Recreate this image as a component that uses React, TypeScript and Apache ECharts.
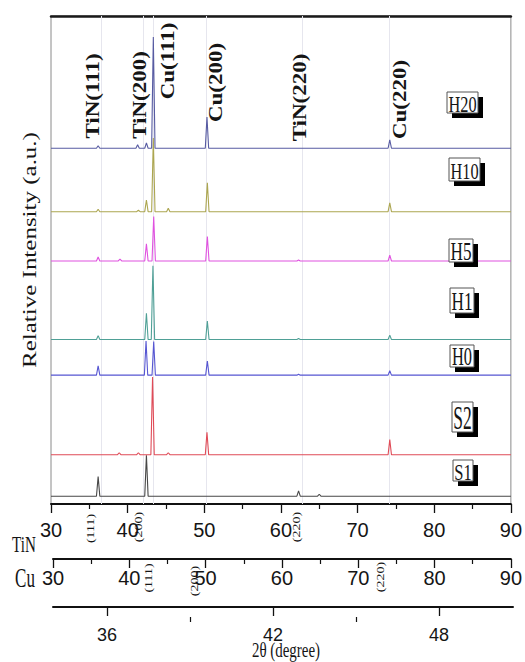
import React, { useEffect, useRef } from "react";
import * as echarts from "echarts";

// ---------- data ----------
const X_MIN = 30;
const X_MAX = 90;
const X_STEP = 10;
const THIRD_MIN = 34.05;
const THIRD_MAX = 50.67;
const thirdMajorTicks = [36, 42, 48];
const thirdMinorTicks = [39, 45];

const sampleNames = ["S1", "S2", "H0", "H1", "H5", "H10", "H20"];
const sampleColors = ["#474747", "#e04b57", "#5656d2", "#4fa096", "#e052e0", "#aca650", "#575ba2"];
const baselines = [1.6, 10.1, 26.4, 33.7, 49.8, 59.9, 72.9];

// [2θ, apex intensity]
const peaksS1 = [[36.15, 5.6], [42.45, 10.0], [62.3, 2.7], [65.0, 2.0]];
const peaksS2 = [[38.9, 10.5], [41.4, 10.5], [43.25, 26.0], [45.3, 10.5], [50.35, 14.7], [74.2, 13.2]];
const peaksH0 = [[36.15, 28.3], [42.4, 33.4], [43.4, 33.3], [50.4, 29.3], [62.3, 26.6], [74.2, 27.3]];
const peaksH1 = [[36.15, 34.5], [42.45, 39.1], [43.3, 48.8], [50.4, 37.5], [62.3, 33.9], [74.2, 34.6]];
const peaksH5 = [[36.15, 50.6], [39.0, 50.2], [42.45, 53.3], [43.4, 58.9], [50.4, 54.8], [62.3, 50.0], [74.2, 51.0]];
const peaksH10 = [[36.15, 60.4], [41.4, 60.2], [42.45, 62.3], [43.35, 75.0], [45.3, 60.6], [50.4, 65.8], [74.2, 61.7]];
const peaksH20 = [[36.15, 73.4], [41.3, 73.6], [42.45, 74.0], [43.35, 95.7], [50.35, 79.3], [74.2, 74.6]];
const allPeaks = [peaksS1, peaksS2, peaksH0, peaksH1, peaksH5, peaksH10, peaksH20];
const PEAK_HALF_WIDTH = 0.22;

const guideLines = [36.6, 42.0, 43.4, 50.2, 62.8, 74.1];

const peakLabelTexts = ["TiN(111)", "TiN(200)", "Cu(111)", "Cu(200)", "TiN(220)", "Cu(220)"];
const tinAxisHkl = ["(111)", "(200)", "(220)"];
const cuAxisHkl = ["(111)", "(200)", "(220)"];

// ---------- helpers ----------
const SERIF = "'Liberation Serif', 'Times New Roman', serif";
const NARROW = "'Liberation Sans Narrow', 'Liberation Sans', Arial, sans-serif";

function buildLine(base: number, peaks: number[][]) {
  const pts: number[][] = [[X_MIN, base]];
  for (const [p, top] of peaks) {
    pts.push([p - PEAK_HALF_WIDTH, base]);
    pts.push([p, top]);
    pts.push([p + PEAK_HALF_WIDTH, base]);
  }
  pts.push([X_MAX, base]);
  return pts;
}

function rotText(text: string, x: number, y: number, fs: number, bold: boolean, sy: number) {
  return {
    type: "text",
    x,
    y,
    rotation: Math.PI / 2,
    scaleY: sy,
    z: 20,
    style: {
      text,
      fontSize: fs,
      fontWeight: bold ? "bold" : "normal",
      fontFamily: SERIF,
      fill: "#151515",
      align: "center",
      verticalAlign: "middle",
      textAlign: "center",
      textVerticalAlign: "middle",
    },
  };
}

function hText(text: string, x: number, y: number, fs: number, sx: number) {
  return {
    type: "text",
    x,
    y,
    scaleX: sx,
    z: 20,
    style: {
      text,
      fontSize: fs,
      fontFamily: SERIF,
      fill: "#151515",
      align: "center",
      verticalAlign: "middle",
      textAlign: "center",
      textVerticalAlign: "middle",
    },
  };
}

// layout of the annotation decorations (pixels)
const peakLabelLayout = [
  [93, 96], [139.5, 95], [167.5, 61], [215.5, 82.5], [300, 97.5], [400, 99.5],
];
const tinHklLayout = [[90, 528.5], [138.5, 527], [296.5, 527]];
const cuHklLayout = [[148.5, 578], [194.5, 581], [380.5, 577]];
// [x, y, w, h, fontSize, scaleX]
const boxLayout = [
  [453, 460, 20, 21, 23, 0.72], // S1
  [452, 402, 21, 30, 33, 0.53], // S2
  [450, 345, 24, 22, 26, 0.63], // H0
  [450, 288, 24, 25, 26, 0.66], // H1
  [449, 239, 24, 23, 26, 0.66], // H5
  [449, 158, 31, 23, 24, 0.68], // H10
  [447, 92, 31, 21, 23, 0.71], // H20
];

export default function App() {
  const ref = useRef<HTMLDivElement>(null);

  useEffect(() => {
    if (!ref.current) return;
    const chart = echarts.init(ref.current, null, { renderer: "svg" });

    const series: any[] = sampleNames.map((name, i) => ({
      name,
      type: "line",
      xAxisIndex: 0,
      yAxisIndex: 0,
      data: buildLine(baselines[i], allPeaks[i]),
      showSymbol: false,
      symbol: "none",
      lineStyle: { color: sampleColors[i], width: 1.1 },
      itemStyle: { color: sampleColors[i] },
      z: 3,
      ...(i === 0
        ? {
            markLine: {
              silent: true,
              symbol: "none",
              label: { show: false },
              lineStyle: { color: "#e6e6ee", width: 1, type: "solid" },
              data: guideLines.map((v) => ({ xAxis: v })),
              z: 1,
            },
          }
        : {}),
    }));

    const numLabel = { fontFamily: NARROW, fontSize: 20, color: "#151515" };

    const graphic: any[] = [];
    peakLabelTexts.forEach((t, i) => {
      const [x, y] = peakLabelLayout[i];
      graphic.push(rotText(t, x, y, 23, true, 0.78));
    });
    tinAxisHkl.forEach((t, i) => {
      const [x, y] = tinHklLayout[i];
      graphic.push(rotText(t, x, y, 14, false, 0.8));
    });
    cuAxisHkl.forEach((t, i) => {
      const [x, y] = cuHklLayout[i];
      graphic.push(rotText(t, x, y, 14, false, 0.8));
    });
    graphic.push(rotText("Relative Intensity (a.u.)", 30, 250, 25, false, 0.75));
    graphic.push(hText("TiN", 24, 544, 24, 0.63));
    graphic.push(hText("Cu", 25, 578, 27, 0.63));
    graphic.push(hText("2θ (degree)", 286, 649, 22, 0.68));
    sampleNames.forEach((name, i) => {
      const [x, y, w, h, fs, sx] = boxLayout[i];
      graphic.push({
        type: "rect",
        z: 18,
        shape: { x: x + 5, y: y + 5, width: w, height: h },
        style: { fill: "#000" },
      });
      graphic.push({
        type: "rect",
        z: 19,
        shape: { x, y, width: w, height: h },
        style: { fill: "#fff", stroke: "#555", lineWidth: 1 },
      });
      graphic.push(hText(name, x + w / 2, y + h / 2 + 1, fs, sx));
    });

    chart.setOption({
      animation: false,
      backgroundColor: "#fff",
      grid: [
        { left: 51, right: 13, top: 16, height: 488, show: true, borderColor: "#8a8a8a", borderWidth: 1, backgroundColor: "transparent" },
        { left: 53, right: 12, top: 540, height: 19 },
        { left: 53, right: 12, top: 590, height: 17 },
        { left: 53, right: 12, top: 607, height: 10 },
      ],
      xAxis: [
        {
          type: "value", gridIndex: 0, position: "bottom", min: X_MIN, max: X_MAX, interval: X_STEP,
          axisLine: { show: true, lineStyle: { color: "#111", width: 2 } },
          axisTick: { show: true, length: 9, lineStyle: { color: "#111", width: 1.3 } },
          minorTick: { show: true, splitNumber: 2, length: 5, lineStyle: { color: "#111", width: 1.2 } },
          axisLabel: { ...numLabel, margin: 16 },
          splitLine: { show: false },
        },
        {
          type: "value", gridIndex: 0, position: "top", min: X_MIN, max: X_MAX,
          axisLine: { show: true, lineStyle: { color: "#1a1a1a", width: 2.5 } },
          axisTick: { show: false }, axisLabel: { show: false }, splitLine: { show: false },
        },
        {
          type: "value", gridIndex: 1, position: "bottom", min: X_MIN, max: X_MAX, interval: X_STEP,
          axisLine: { show: true, lineStyle: { color: "#111", width: 2 } },
          axisTick: { show: true, length: 9, lineStyle: { color: "#111", width: 1.3 } },
          minorTick: { show: true, splitNumber: 2, length: 5, lineStyle: { color: "#111", width: 1.2 } },
          axisLabel: { ...numLabel, margin: 9 },
          splitLine: { show: false },
        },
        {
          type: "value", gridIndex: 2, position: "bottom", min: THIRD_MIN, max: THIRD_MAX,
          axisLine: { show: true, lineStyle: { color: "#111", width: 2 } },
          axisTick: { show: true, length: 9, customValues: thirdMajorTicks, lineStyle: { color: "#111", width: 1.3 } },
          axisLabel: { ...numLabel, fontSize: 18, margin: 19, customValues: thirdMajorTicks },
          splitLine: { show: false },
        },
        {
          type: "value", gridIndex: 3, position: "top", min: THIRD_MIN, max: THIRD_MAX,
          axisLine: { show: false },
          axisTick: { show: true, inside: true, length: 5, customValues: thirdMinorTicks, lineStyle: { color: "#111", width: 1.2 } },
          axisLabel: { show: false },
          splitLine: { show: false },
        },
      ],
      yAxis: [
        { type: "value", gridIndex: 0, min: 0, max: 100, show: false, splitLine: { show: false } },
        { type: "value", gridIndex: 1, min: 0, max: 1, show: false },
        { type: "value", gridIndex: 2, min: 0, max: 1, show: false },
        { type: "value", gridIndex: 3, min: 0, max: 1, show: false },
      ],
      series,
      graphic,
    });

    return () => chart.dispose();
  }, []);

  return (
    <div
      ref={ref}
      style={{ position: "fixed", left: 0, top: 0, width: 525, height: 662, background: "#fff" }}
    />
  );
}
